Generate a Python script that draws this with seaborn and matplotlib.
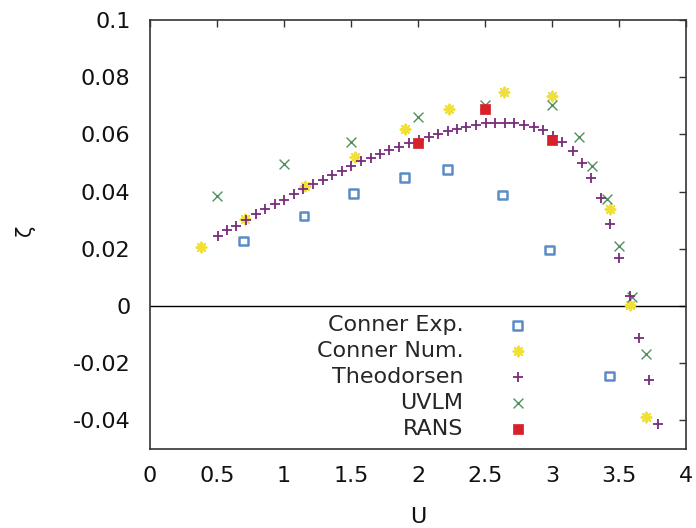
import matplotlib
matplotlib.use("Agg")
import matplotlib.pyplot as plt
import seaborn as sns
import pandas as pd

# ---- data ----
exp_U = [0.70, 1.15, 1.52, 1.90, 2.22, 2.63, 2.98, 3.43]
exp_zeta = [0.0227, 0.0315, 0.0392, 0.0448, 0.0476, 0.0388, 0.0196, -0.0245]

num_U = [0.38, 0.71, 1.16, 1.53, 1.90, 2.23, 2.64, 3.00, 3.43, 3.58, 3.70]
num_zeta = [0.0207, 0.0303, 0.0421, 0.0522, 0.0618, 0.0689, 0.0749, 0.0735, 0.0340, 0.0003, -0.0389]

theo_U = [0.505, 0.575, 0.644, 0.714, 0.789, 0.861, 0.933, 1.002, 1.075, 1.144,
          1.216, 1.289, 1.358, 1.431, 1.502, 1.572, 1.647, 1.716, 1.786, 1.861,
          1.933, 2.007, 2.082, 2.152, 2.222, 2.291, 2.361, 2.435, 2.507, 2.577,
          2.649, 2.719, 2.793, 2.863, 2.933, 3.007, 3.077, 3.154, 3.224, 3.291,
          3.363, 3.435, 3.502, 3.580, 3.649, 3.724, 3.793]
theo_zeta = [0.0245, 0.0265, 0.0281, 0.0301, 0.0321, 0.0338, 0.0358, 0.0372, 0.0393, 0.0409,
             0.0425, 0.0442, 0.0459, 0.0473, 0.0490, 0.0506, 0.0519, 0.0533, 0.0546, 0.0556,
             0.0569, 0.0580, 0.0592, 0.0601, 0.0612, 0.0618, 0.0626, 0.0633, 0.0639, 0.0639,
             0.0639, 0.0639, 0.0632, 0.0625, 0.0614, 0.0596, 0.0573, 0.0542, 0.0501, 0.0447,
             0.0378, 0.0287, 0.0168, 0.0035, -0.0113, -0.0260, -0.0413]

uvlm_U = [0.50, 1.00, 1.50, 2.00, 2.50, 3.00, 3.20, 3.30, 3.41, 3.50, 3.60, 3.70]
uvlm_zeta = [0.0385, 0.0497, 0.0572, 0.0661, 0.0703, 0.0702, 0.0592, 0.0490, 0.0373, 0.0211, 0.0030, -0.0168]

rans_U = [2.00, 2.50, 3.00]
rans_zeta = [0.0571, 0.0689, 0.0580]

labels = ["Conner Exp.", "Conner Num.", "Theodorsen", "UVLM", "RANS"]
x_ticks = [0, 0.5, 1, 1.5, 2, 2.5, 3, 3.5, 4]
x_ticklabels = ["0", "0.5", "1", "1.5", "2", "2.5", "3", "3.5", "4"]
y_ticks = [-0.04, -0.02, 0, 0.02, 0.04, 0.06, 0.08, 0.1]
y_ticklabels = ["-0.04", "-0.02", "0", "0.02", "0.04", "0.06", "0.08", "0.1"]

# ---- style ----
sns.set_theme(style="white")
plt.rcParams["font.family"] = ["DejaVu Sans"]
plt.rcParams["axes.unicode_minus"] = False

fig = plt.figure(figsize=(6.96, 5.28), dpi=100)
ax = fig.add_axes([150 / 696, 1 - 449 / 528, 536 / 696, 429 / 528])

ax.axhline(0, color="black", lw=1.0, zorder=1)

sns.scatterplot(x=exp_U, y=exp_zeta, ax=ax, marker="s", s=40, facecolors="none",
                edgecolor="#5b8cc6", linewidth=1.8, label=labels[0], zorder=3)
sns.scatterplot(x=num_U, y=num_zeta, ax=ax, marker=(8, 2, 0), s=50, color="#f2e03a",
                edgecolor="#f2e03a", linewidth=1.5, label=labels[1], zorder=3)
sns.scatterplot(x=theo_U, y=theo_zeta, ax=ax, marker="+", s=55, color="#7a2c7e",
                linewidth=1.3, label=labels[2], zorder=4)
sns.scatterplot(x=uvlm_U, y=uvlm_zeta, ax=ax, marker="x", s=50, color="#4f8f5f",
                linewidth=1.0, label=labels[3], zorder=3)
sns.scatterplot(x=rans_U, y=rans_zeta, ax=ax, marker="s", s=60, color="#d8202a",
                edgecolor="#d8202a", linewidth=0.5, label=labels[4], zorder=5)

ax.set_xlim(0, 4)
ax.set_ylim(-0.05, 0.1)
ax.set_xticks(x_ticks)
ax.set_xticklabels(x_ticklabels)
ax.set_yticks(y_ticks)
ax.set_yticklabels(y_ticklabels)

ax.tick_params(axis="both", direction="in", length=5, width=1.0, color="#333333",
               labelsize=16, top=True, right=True, labelcolor="#111111")
ax.tick_params(axis="y", pad=14)
ax.tick_params(axis="x", pad=12)
for sp in ax.spines.values():
    sp.set_color("#333333")
    sp.set_linewidth(1.2)

ax.set_xlabel("U", fontsize=16, color="#111111")
ax.set_ylabel("ζ", fontsize=15, color="#111111")
ax.xaxis.set_label_coords(0.5, -0.135)
ax.yaxis.set_label_coords(-0.215, 0.51)

leg = ax.legend(loc="upper right", bbox_to_anchor=(0.7276, 0.312), frameon=False,
                markerfirst=False, fontsize=16, labelspacing=0.27,
                handletextpad=1.45, handlelength=2.0, borderpad=0, borderaxespad=0)

fig.savefig("out.png", dpi=100)
